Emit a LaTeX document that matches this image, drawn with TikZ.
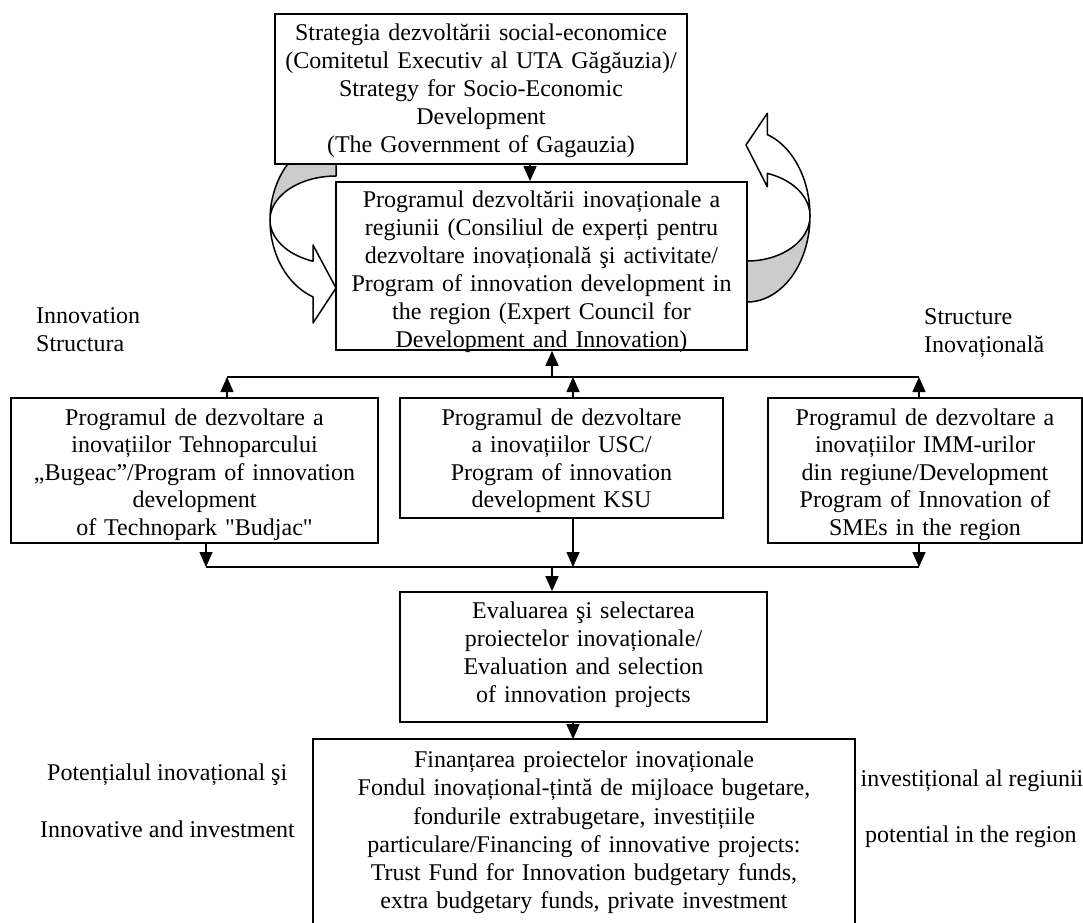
\documentclass[tikz,border=0pt]{standalone}
\usepackage{fontspec}
\newfontfamily\tnr{Liberation Serif}
\usetikzlibrary{arrows.meta,calc}
\begin{document}
\begin{tikzpicture}[x=1pt,y=-1pt,
  txt/.style={font=\tnr\fontsize{24}{28}\selectfont},
  box/.style={txt, draw=black, line width=1.8pt, fill=white, inner sep=0pt, align=center},
  lvl/.style={font=\tnr\fontsize{24}{27.5}\selectfont},
  lbl/.style={txt, inner sep=0pt},
  conn/.style={line width=1.5pt},
  arr/.style={line width=1.5pt, -{Triangle[length=15pt,width=13pt]}},
  carrow/.style={draw=black, line width=1.5pt, line join=round},
  back/.style={carrow, fill=black!20},
  front/.style={carrow, fill=white}]
\fill[white] (0,0) rectangle (1083,922);
\useasboundingbox (0,0) rectangle (1083,922);

% left curved arrow
\filldraw[back] plot[domain=180:270, samples=40, variable=\t] ({336+66*cos(\t)},{220+82*sin(\t)})
  -- plot[domain=270:180, samples=40, variable=\t] ({336+66*cos(\t)},{220+44*sin(\t)}) -- cycle;
\filldraw[front] plot[domain=180:110.4, samples=40, variable=\t] ({336+66*cos(\t)},{220+82*sin(\t)})
  -- (313,323) -- (336,288) -- (313,245)
  -- plot[domain=110.4:180, samples=40, variable=\t] ({336+66*cos(\t)},{220+44*sin(\t)}) -- cycle;

% right curved arrow
\filldraw[back] plot[domain=90:0, samples=40, variable=\t] ({747+63*cos(\t)},{216+45*sin(\t)})
  -- plot[domain=0:90, samples=40, variable=\t] ({747+63*cos(\t)},{216+86*sin(\t)}) -- cycle;
\filldraw[front] plot[domain=0:-71.2, samples=40, variable=\t] ({747+63*cos(\t)},{216+86*sin(\t)})
  -- (767.3,113.3) -- (746,145) -- (767.3,186.7)
  -- plot[domain=-71.2:0, samples=40, variable=\t] ({747+63*cos(\t)},{216+45*sin(\t)}) -- cycle;

% boxes
\node[box, minimum width=412pt, minimum height=150pt, text width=406pt, text height=26pt, text depth=124pt] (top) at (481,89)
  {Strategia dezvoltării social-economice\\(Comitetul Executiv al UTA Găgăuzia)/\\Strategy for Socio-Economic\\Development\\(The Government of Gagauzia)};
\node[box, minimum width=411pt, minimum height=168pt, text width=405pt, text height=25pt, text depth=143pt] (prog) at (541.5,266)
  {Programul dezvoltării inovaționale a\\regiunii (Consiliul de experți pentru\\dezvoltare inovațională şi activitate/\\Program of innovation development in\\the region (Expert Council for\\Development and Innovation)};
\node[box, lvl, minimum width=367pt, minimum height=145pt, text width=361pt, text height=27pt, text depth=118pt] (left) at (194.5,470.5)
  {Programul de dezvoltare a\\inovațiilor Tehnoparcului\\„Bugeac”/Program of innovation\\development\\of Technopark "Budjac"};
\node[box, lvl, minimum width=323pt, minimum height=120pt, text width=317pt, text height=27pt, text depth=93pt] (mid) at (561.5,458)
  {Programul de dezvoltare\\a inovațiilor USC/\\Program of innovation\\development KSU};
\node[box, lvl, minimum width=314pt, minimum height=145pt, text width=308pt, text height=27pt, text depth=118pt] (right) at (925,470.5)
  {Programul de dezvoltare a\\inovațiilor IMM-urilor\\din regiune/Development\\Program of Innovation of\\SMEs in the region};
\node[box, minimum width=367pt, minimum height=130pt, text width=361pt, text height=26pt, text depth=104pt] (eval) at (583.5,657)
  {Evaluarea şi selectarea\\proiectelor inovaționale/\\Evaluation and selection\\of innovation projects};
\node[box, draw=none, font=\tnr\fontsize{24}{28.3}\selectfont, minimum width=540pt, minimum height=182pt, text width=534pt, text height=27.4pt, text depth=154.6pt] (fin) at (584,831)
  {Finanțarea proiectelor inovaționale\\Fondul inovațional-țintă de mijloace bugetare,\\fondurile extrabugetare, investițiile\\particulare/Financing of innovative projects:\\Trust Fund for Innovation budgetary funds,\\extra budgetary funds, private investment};
\draw[line width=1.8pt] (fin.south west) -- (fin.north west) -- (fin.north east) -- (fin.south east);

% side labels
\node[lbl, anchor=north west, align=left] (l1) at (36,307) {Innovation\\Structura};
\node[lbl, anchor=north west, align=left] (l2) at (924,308) {Structure\\Inovațională};
\node[lbl, anchor=base west] (l3) at (47,780) {Potențialul inovațional şi};
\node[lbl, anchor=base west] (l4) at (40,837) {Innovative and investment};
\node[lbl, anchor=base west] (l5) at (860.5,786) {investițional al regiunii};
\node[lbl, anchor=base west] (l6) at (865,842) {potential in the region};

% connectors
\coordinate (xa) at (530,0);
\coordinate (xf) at (573,0);
\coordinate (u1) at (227,377);
\coordinate (u2) at (573,377);
\coordinate (u3) at (919,377);
\coordinate (uc) at (552,377);
\coordinate (d1) at (206,567);
\coordinate (d2) at (573,567);
\coordinate (d3) at (919,567);
\coordinate (dc) at (552,567);

\draw[arr] (top.south -| xa) -- (prog.north -| xa);
\draw[conn] (u1) -- (u3);
\draw[arr] (left.north -| u1) -- (u1);
\draw[arr] (mid.north -| u2) -- (u2);
\draw[arr] (right.north -| u3) -- (u3);
\draw[arr] (uc) -- (prog.south -| uc);
\draw[conn] (d1) -- (d3);
\draw[arr] (left.south -| d1) -- (d1);
\draw[arr] (mid.south -| d2) -- (d2);
\draw[arr] (right.south -| d3) -- (d3);
\draw[arr] (dc) -- (eval.north -| dc);
\draw[arr] (eval.south -| xf) -- (fin.north -| xf);
\end{tikzpicture}
\end{document}
